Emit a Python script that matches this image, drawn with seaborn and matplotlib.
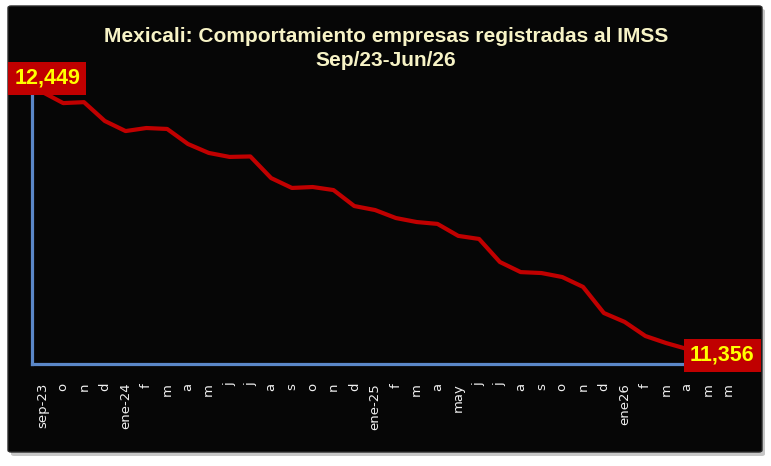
import matplotlib
matplotlib.use("Agg")
import matplotlib.pyplot as plt
from matplotlib.patches import FancyBboxPatch
import seaborn as sns

# ---- data ----
months = ["sep-23", "o", "n", "d", "ene-24", "f", "m", "a", "m", "j", "j", "a",
          "s", "o", "n", "d", "ene-25", "f", "m", "a", "may", "j", "j", "a",
          "s", "o", "n", "d", "ene26", "f", "m", "a", "m", "m"]
empresas = [12449, 12402, 12406, 12326, 12283, 12296, 12292, 12228, 12190, 12173,
            12175, 12083, 12041, 12045, 12032, 11964, 11947, 11913, 11896, 11888,
            11837, 11824, 11726, 11683, 11679, 11662, 11620, 11509, 11471, 11411,
            11381, 11356]
title_line1 = "Mexicali: Comportamiento empresas registradas al IMSS"
title_line2 = "Sep/23-Jun/26"

sns.set_style("dark")
plt.rcParams["font.family"] = ["DejaVu Sans"]

W, H = 771, 466
fig = plt.figure(figsize=(W / 100, H / 100), dpi=100)
fig.patch.set_facecolor("white")

def fx(px):
    return px / W

def fy(py):
    return 1 - py / H

# outer shadow + black panel
shadow = FancyBboxPatch((fx(11), fy(456)), fx(754), (456 - 9) / H,
                        boxstyle="round,pad=0,rounding_size=0.004",
                        transform=fig.transFigure, fc="#9a9a9a", ec="none",
                        alpha=0.55, zorder=0)
fig.patches.append(shadow)
panel = FancyBboxPatch((fx(8), fy(452)), fx(754), (452 - 6) / H,
                       boxstyle="round,pad=0,rounding_size=0.004",
                       transform=fig.transFigure, fc="#060606", ec="#2a2a2a",
                       lw=1.0, zorder=1)
fig.patches.append(panel)

# axes
left, right, top, bottom = 32, 739, 85, 364
ax = fig.add_axes([fx(left), fy(bottom), fx(right - left), (bottom - top) / H])
ax.set_facecolor("#060606")
ax.set_zorder(2)

x = list(range(len(empresas)))
sns.lineplot(x=x, y=empresas, ax=ax, color="#C00000", linewidth=3.0,
             solid_joinstyle="round", solid_capstyle="round")

ax.set_xlim(-0.5, len(months) - 0.5)
ax.set_ylim(11292, 12479)
ax.set_xticks(range(len(months)))
ax.set_xticklabels(months, rotation=90, color="#F0F0F0", fontsize=9.5)
ax.set_yticks([])
ax.tick_params(axis="x", length=0, pad=13.5)
ax.grid(False)
for s in ["top", "right"]:
    ax.spines[s].set_visible(False)
for s in ["left", "bottom"]:
    ax.spines[s].set_visible(True)
    ax.spines[s].set_color("#5A87C8")
    ax.spines[s].set_linewidth(2.3)
ax.set_xlabel("")
ax.set_ylabel("")

# data labels
lab_kw = dict(textcoords="offset points", ha="center", va="center",
              fontsize=15.5, fontweight="bold", color="#FFFF00",
              family=["Liberation Sans Narrow", "Liberation Sans", "DejaVu Sans"],
              bbox=dict(boxstyle="square,pad=0.28", fc="#C00000", ec="none"),
              annotation_clip=False, zorder=5)
ax.annotate(f"{empresas[0]:,}", xy=(0, empresas[0]), xytext=(3.6, 10.0), **lab_kw)
ax.annotate(f"{empresas[-1]:,}", xy=(len(empresas) - 1, empresas[-1]),
            xytext=(25.5, -4.7), **lab_kw)

# title
tkw = dict(ha="center", va="center", fontsize=15, fontweight="bold",
           color="#F7F3C6", family=["Liberation Sans", "DejaVu Sans"], zorder=5)
fig.text(fx(386), fy(37), title_line1, **tkw)
fig.text(fx(386), fy(61), title_line2, **tkw)

fig.savefig("out.png", dpi=100, facecolor=fig.get_facecolor())
